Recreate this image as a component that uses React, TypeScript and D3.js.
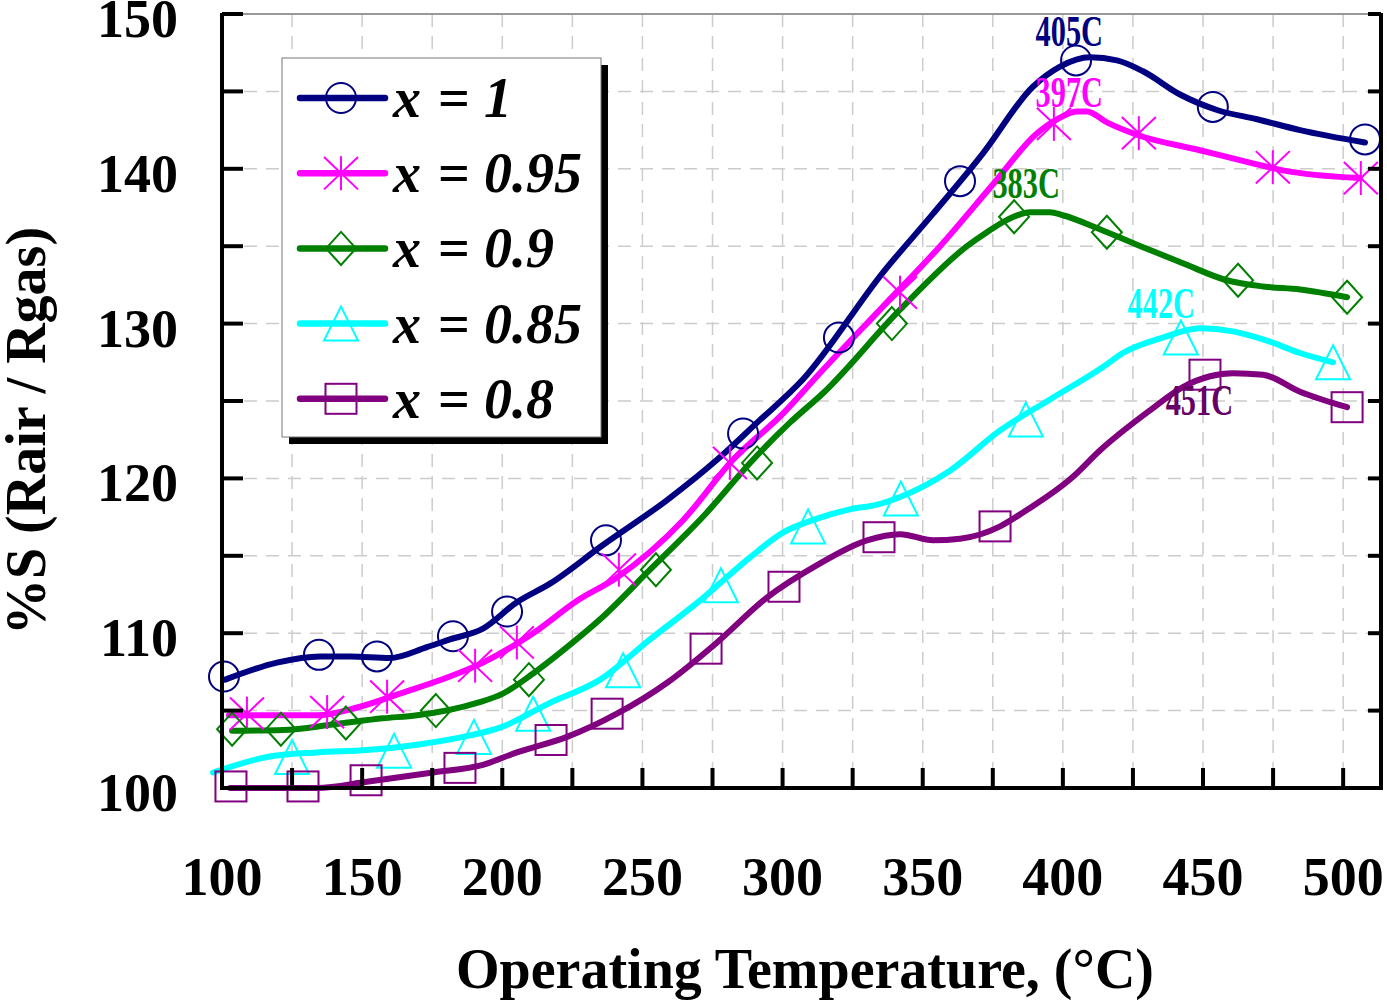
import React from 'react';
import * as d3 from 'd3';

type Pt = [number, number];

const seriesNames = ['x = 1', 'x = 0.95', 'x = 0.9', 'x = 0.85', 'x = 0.8'];
const seriesColors = ['#000080', '#ff00ff', '#008000', '#00ffff', '#800080'];
const markerShapes = ['circle', 'asterisk', 'diamond', 'triangle', 'square'];

// smooth fitted curves (temperature °C, %S)
const curveX100: Pt[] = [[101.1,107.0],[119.6,108.1],[135.0,108.5],[145.7,108.5],[159.9,108.4],[173.1,109.1],[181.3,109.6],[193.1,110.3],[205.2,112.0],[217.0,113.2],[235.9,115.7],[258.8,118.6],[276.6,121.2],[290.9,123.6],[307.3,126.4],[335.8,133.3],[353.7,137.1],[371.5,141.0],[389.3,145.3],[399.0,146.6],[409.7,147.2],[419.3,147.0],[428.6,146.3],[441.8,144.8],[455.0,143.8],[469.3,143.2],[484.6,142.5],[507.8,141.7]];
const curveX095: Pt[] = [[102.5,104.7],[133.9,104.7],[148.2,105.2],[163.5,106.1],[181.3,107.2],[193.1,108.1],[211.0,110.0],[226.7,112.1],[240.9,113.6],[264.5,117.3],[282.3,121.2],[300.2,124.2],[312.3,126.6],[335.8,131.1],[356.2,135.0],[375.1,139.0],[390.8,142.3],[397.9,143.2],[405.0,143.7],[408.6,143.7],[415.7,143.0],[426.4,142.2],[448.9,141.2],[466.7,140.4],[478.5,139.9],[506.0,139.4]];
const curveX090: Pt[] = [[103.6,103.7],[121.8,103.75],[139.6,104.1],[157.4,104.5],[169.6,104.7],[191.0,105.5],[200.2,106.1],[211.0,107.4],[223.1,109.1],[234.9,110.9],[252.7,114.1],[273.0,117.8],[288.4,121.0],[302.6,123.6],[314.4,125.5],[341.9,130.9],[365.8,135.0],[372.9,135.9],[380.1,136.7],[388.3,137.2],[395.4,137.2],[400.0,137.0],[413.2,136.1],[426.4,135.1],[442.8,133.9],[458.5,132.8],[471.4,132.4],[484.6,132.2],[501.4,131.7]];
const curveX085: Pt[] = [[96.8,101.0],[116.1,102.0],[133.9,102.3],[151.7,102.45],[169.6,102.8],[188.5,103.4],[199.2,103.9],[217.0,105.5],[234.9,107.0],[252.7,109.6],[270.5,112.1],[288.4,114.9],[300.1,116.5],[312.3,117.4],[324.0,118.0],[333.7,118.3],[341.9,118.8],[359.7,120.5],[377.6,123.1],[395.4,125.1],[414.3,127.2],[421.4,128.1],[435.7,129.1],[448.9,129.7],[460.7,129.5],[472.8,128.9],[484.6,128.1],[496.4,127.5]];
const curveX080: Pt[] = [[102.9,100.0],[133.9,100.0],[151.7,100.4],[175.3,101.0],[193.1,101.5],[205.2,102.3],[223.1,103.3],[240.9,104.8],[258.8,106.8],[276.6,109.4],[294.4,112.3],[312.3,114.4],[330.1,116.0],[341.9,116.4],[353.7,116.0],[363.3,116.1],[377.6,116.9],[385.8,117.8],[403.6,120.1],[413.2,121.8],[431.1,124.4],[442.8,125.9],[452.5,126.6],[460.7,126.8],[471.4,126.7],[484.6,125.6],[501.4,124.6]];

// measured points (markers)
const pointsX100: Pt[] = [[100.7,107.2],[134.6,108.6],[155.3,108.5],[182.4,109.8],[201.7,111.4],[237.0,116.0],[285.9,122.9],[320.1,129.1],[363.3,139.2],[404.7,147.0],[453.5,144.0],[507.8,141.9]];
const pointsX095: Pt[] = [[108.9,104.8],[137.5,104.9],[158.9,105.9],[190.3,107.9],[205.2,109.4],[241.6,114.1],[281.2,121.0],[341.9,132.0],[396.8,142.9],[427.1,142.3],[474.9,140.1],[506.3,139.4]];
const pointsX090: Pt[] = [[103.6,103.8],[121.0,103.8],[144.2,104.2],[176.3,105.0],[209.5,107.0],[254.8,114.1],[290.9,121.0],[339.0,130.0],[382.6,136.9],[415.7,135.9],[462.5,132.8],[501.4,131.7]];
const pointsX085: Pt[] = [[125.0,102.0],[161.4,102.4],[189.9,103.3],[211.0,104.8],[243.1,107.6],[278.0,113.1],[309.1,116.9],[342.2,118.7],[386.8,123.8],[442.1,129.1],[496.4,127.5]];
const pointsX080: Pt[] = [[103.2,100.1],[128.9,100.1],[151.4,100.5],[184.9,101.3],[217.4,103.1],[237.4,104.8],[272.7,109.0],[300.5,113.0],[334.4,116.2],[375.8,116.9],[450.7,126.7],[501.4,124.6]];

const curves = [curveX100, curveX095, curveX090, curveX085, curveX080];
const points = [pointsX100, pointsX095, pointsX090, pointsX085, pointsX080];

const peakLabels = ['405C', '397C', '383C', '442C', '451C'];
const peakLabelColors = ['#000080', '#ff00ff', '#008000', '#00ffff', '#660066'];
const peakLabelAt: Pt[] = [[402.3,147.93],[402.3,143.99],[386.9,138.11],[435.1,130.36],[448.7,124.09]];

const xTickLabels = [100, 150, 200, 250, 300, 350, 400, 450, 500];
const yTickLabels = [100, 110, 120, 130, 140, 150];

const FONT = "'Liberation Serif', 'Times New Roman', serif";

function Marker({ shape, cx, cy, color }: { shape: string; cx: number; cy: number; color: string }) {
  const sw = 2;
  if (shape === 'circle') return <circle cx={cx} cy={cy} r={15} fill="none" stroke={color} strokeWidth={sw} />;
  if (shape === 'asterisk') {
    const s = 17;
    return (
      <g stroke={color} strokeWidth={sw}>
        <line x1={cx} y1={cy - s} x2={cx} y2={cy + s} />
        <line x1={cx - s} y1={cy - s * 0.95} x2={cx + s} y2={cy + s * 0.95} />
        <line x1={cx - s} y1={cy + s * 0.95} x2={cx + s} y2={cy - s * 0.95} />
      </g>
    );
  }
  if (shape === 'diamond') {
    const w = 15, h = 16.5;
    return <path d={`M${cx},${cy - h}L${cx + w},${cy}L${cx},${cy + h}L${cx - w},${cy}Z`} fill="none" stroke={color} strokeWidth={sw} />;
  }
  if (shape === 'triangle') {
    const w = 17, h = 17;
    return <path d={`M${cx},${cy - h}L${cx + w},${cy + h}L${cx - w},${cy + h}Z`} fill="none" stroke={color} strokeWidth={sw} />;
  }
  return <rect x={cx - 15.5} y={cy - 15} width={31} height={30} fill="none" stroke={color} strokeWidth={sw} />;
}

export default function App() {
  const W = 1387, H = 1000;
  const left = 222, right = 1381, top = 14, bottom = 788;
  const x = d3.scaleLinear().domain([100, 513.5]).range([left, right]);
  const y = d3.scaleLinear().domain([100, 150]).range([bottom, top]);
  const line = d3.line<Pt>().x(d => x(d[0])).y(d => y(d[1])).curve(d3.curveMonotoneX);

  const xGrid = d3.range(125, 501, 25);
  const yGrid = d3.range(105, 150, 5);
  const xTicks = d3.range(125, 501, 25);
  const yTicks = d3.range(105, 151, 5);

  const legX = 282, legY = 58, legW = 319, legH = 379;
  const rowY = (i: number) => 98 + i * 75.2;

  return (
    <svg width={W} height={H} viewBox={`0 0 ${W} ${H}`} style={{ position: 'absolute', left: 0, top: 0, background: '#fff' }}>
      <rect x={0} y={0} width={W} height={H} fill="#fff" />
      {/* grid */}
      <g stroke="#cccccc" strokeWidth={1.5} strokeDasharray="13,9">
        {xGrid.map(v => <line key={'gx' + v} x1={x(v)} x2={x(v)} y1={top} y2={bottom} />)}
        {yGrid.map(v => <line key={'gy' + v} x1={left} x2={right} y1={y(v)} y2={y(v)} />)}
      </g>
      {/* curves */}
      {curves.map((c, i) => (
        <path key={'c' + i} d={line(c) || ''} fill="none" stroke={seriesColors[i]} strokeWidth={6} strokeLinecap="round" strokeLinejoin="round" />
      ))}
      {/* markers */}
      {points.map((ps, i) => ps.map((p, j) => (
        <Marker key={'m' + i + '-' + j} shape={markerShapes[i]} cx={x(p[0])} cy={y(p[1])} color={seriesColors[i]} />
      )))}
      {/* peak labels */}
      {peakLabels.map((t, i) => (
        <text key={'pl' + i} transform={`translate(${x(peakLabelAt[i][0])},${y(peakLabelAt[i][1])}) scale(0.69,1)`}
          textAnchor="middle" fontFamily={FONT} fontWeight="bold" fontSize={44} fill={peakLabelColors[i]}>{t}</text>
      ))}
      {/* axes */}
      <line x1={left} x2={right} y1={top} y2={top} stroke="#999" strokeWidth={2} />
      <line x1={left} x2={left} y1={top - 1} y2={bottom + 2} stroke="#000" strokeWidth={4} />
      <line x1={right} x2={right} y1={top - 1} y2={bottom + 2} stroke="#000" strokeWidth={4} />
      <line x1={left - 2} x2={right + 2} y1={bottom} y2={bottom} stroke="#000" strokeWidth={4} />
      <g stroke="#000" strokeWidth={4}>
        {yTicks.map(v => <line key={'lt' + v} x1={left} x2={left + 21} y1={y(v)} y2={y(v)} />)}
        {yTicks.map(v => <line key={'rt' + v} x1={right} x2={right - 13} y1={y(v)} y2={y(v)} />)}
        {xTicks.map(v => <line key={'bt' + v} x1={x(v)} x2={x(v)} y1={bottom} y2={bottom - 20} />)}
      </g>
      {/* tick labels */}
      <g fontFamily={FONT} fontWeight="bold" fontSize={54} fill="#000">
        {yTickLabels.map(v => <text key={'yl' + v} x={178} y={y(v) + 23} textAnchor="end">{v}</text>)}
        {xTickLabels.map(v => <text key={'xl' + v} x={x(v)} y={895} textAnchor="middle">{v}</text>)}
      </g>
      {/* axis titles */}
      <text x={805} y={988} textAnchor="middle" fontFamily={FONT} fontWeight="bold" fontSize={56}>Operating Temperature, (°C)</text>
      <text transform={`translate(45,431) rotate(-90)`} textAnchor="middle" fontFamily={FONT} fontWeight="bold" fontSize={56}>%S (Rair / Rgas)</text>
      {/* legend */}
      <rect x={legX + 7} y={legY + 7} width={legW} height={legH} fill="#000" />
      <rect x={legX} y={legY} width={legW} height={legH} fill="#fff" stroke="#777" strokeWidth={1} />
      {seriesNames.map((n, i) => {
        const parts = n.split(' = ');
        return (
          <g key={'lg' + i}>
            <line x1={300} x2={385} y1={rowY(i)} y2={rowY(i)} stroke={seriesColors[i]} strokeWidth={6.5} strokeLinecap="round" />
            <Marker shape={markerShapes[i]} cx={341} cy={rowY(i)} color={seriesColors[i]} />
            <text y={rowY(i) + 19} fontFamily={FONT} fontWeight="bold" fontStyle="italic" fontSize={56} fill="#000">
              <tspan x={393}>{parts[0]}</tspan>
              <tspan x={438} fontStyle="normal">=</tspan>
              <tspan x={484}>{parts[1]}</tspan>
            </text>
          </g>
        );
      })}
    </svg>
  );
}
